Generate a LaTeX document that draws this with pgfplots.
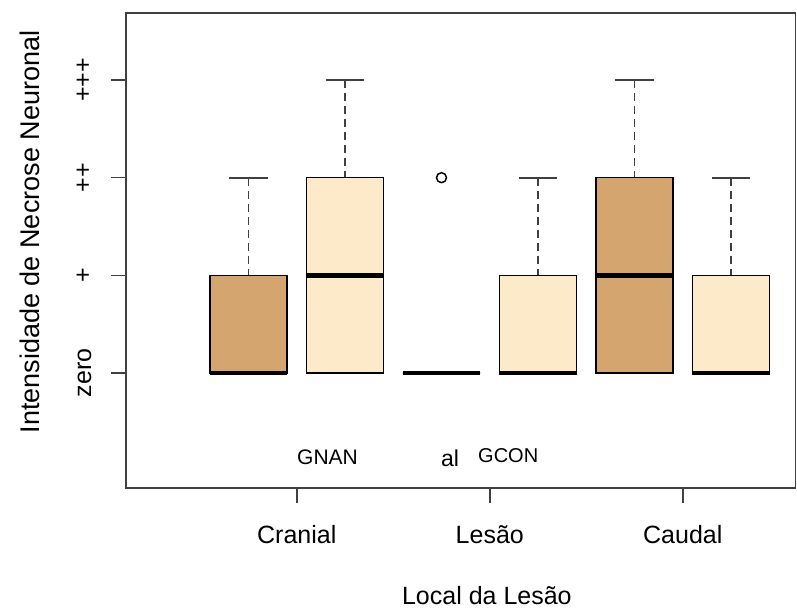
\documentclass[border=0pt]{standalone}
\usepackage{pgfplots}
\pgfplotsset{compat=1.18}
\usepgfplotslibrary{statistics}
\usepackage{fontspec}
\setmainfont{Liberation Sans}
\definecolor{gnan}{HTML}{D4A56E}
\definecolor{gcon}{HTML}{FDEAC8}
\definecolor{axgray}{HTML}{404040}
\begin{document}
\begin{tikzpicture}[font=\fontsize{25pt}{30pt}\selectfont]
\useasboundingbox (0,0) rectangle (797pt,608pt);
\begin{axis}[
  at={(126pt,120pt)}, anchor=south west,
  width=669.5pt, height=475pt, scale only axis,
  xmin=-0.269, xmax=6.668, ymin=-1.177, ymax=3.686,
  axis line style={axgray, line width=1.6pt},
  xtick={1.5,3.5,5.5}, xticklabels={Cranial,Lesão,Caudal},
  ytick={0,1,2,3}, yticklabels={zero,+,++,+++},
  tick pos=left, tick align=outside, major tick length=15pt,
  tick style={axgray, line width=1.6pt},
  yticklabel style={xshift=-20pt, rotate=90, anchor=base, inner sep=0pt},
  xticklabel style={anchor=base, inner sep=0pt, yshift=-40pt},
  xlabel={Local da Lesão},
  ylabel={Intensidade de Necrose Neuronal},
  every axis x label/.style={at={(axis description cs:0.539,0)}, yshift=-116pt, anchor=base, inner sep=0pt},
  every axis y label/.style={at={(axis description cs:0,0.539)}, xshift=-86pt, rotate=90, anchor=base, inner sep=0pt, font=\fontsize{27pt}{32pt}\selectfont},
  boxplot/draw direction=y,
  boxplot/box extend=0.8,
  boxplot/every median/.style={line width=4.8pt},
  boxplot/every whisker/.style={draw=none},
  whisk/.style={axgray, line width=1.8pt, dash pattern=on 8pt off 5pt},
  cap/.style={axgray, line width=1.8pt},
]
% whiskers (from whisker end to box)
\addplot[whisk] coordinates {(1,2) (1,1)};
\addplot[cap] coordinates {(0.8,2) (1.2,2)};
\addplot[whisk] coordinates {(2,3) (2,2)};
\addplot[cap] coordinates {(1.8,3) (2.2,3)};
\addplot[whisk] coordinates {(4,2) (4,1)};
\addplot[cap] coordinates {(3.8,2) (4.2,2)};
\addplot[whisk] coordinates {(5,3) (5,2)};
\addplot[cap] coordinates {(4.8,3) (5.2,3)};
\addplot[whisk] coordinates {(6,2) (6,1)};
\addplot[cap] coordinates {(5.8,2) (6.2,2)};
% boxes
\addplot[draw=black, fill=gnan, line width=1.6pt, boxplot prepared={draw position=1, lower whisker=0, lower quartile=0, median=0, upper quartile=1, upper whisker=1}] coordinates {};
\addplot[draw=black, fill=gcon, line width=1.6pt, boxplot prepared={draw position=2, lower whisker=0, lower quartile=0, median=1, upper quartile=2, upper whisker=2}] coordinates {};
\addplot[draw=black, fill=gnan, line width=1.6pt, boxplot prepared={draw position=3, lower whisker=0, lower quartile=0, median=0, upper quartile=0, upper whisker=0}] coordinates {};
\addplot[draw=black, fill=gcon, line width=1.6pt, boxplot prepared={draw position=4, lower whisker=0, lower quartile=0, median=0, upper quartile=1, upper whisker=1}] coordinates {};
\addplot[draw=black, fill=gnan, line width=1.6pt, boxplot prepared={draw position=5, lower whisker=0, lower quartile=0, median=1, upper quartile=2, upper whisker=2}] coordinates {};
\addplot[draw=black, fill=gcon, line width=1.6pt, boxplot prepared={draw position=6, lower whisker=0, lower quartile=0, median=0, upper quartile=1, upper whisker=1}] coordinates {};
% outlier
\addplot[only marks, mark=o, mark size=5pt, mark options={black, line width=1.5pt}] coordinates {(3,2)};
\end{axis}
\node[anchor=base west, inner sep=0pt, font=\fontsize{21pt}{25pt}\selectfont] at (297pt,144pt) {GNAN};
\node[anchor=base west, inner sep=0pt, font=\fontsize{23pt}{27pt}\selectfont] at (441pt,142pt) {al};
\node[anchor=base west, inner sep=0pt, font=\fontsize{20pt}{24pt}\selectfont] at (478pt,146pt) {GCON};
\end{tikzpicture}
\end{document}
